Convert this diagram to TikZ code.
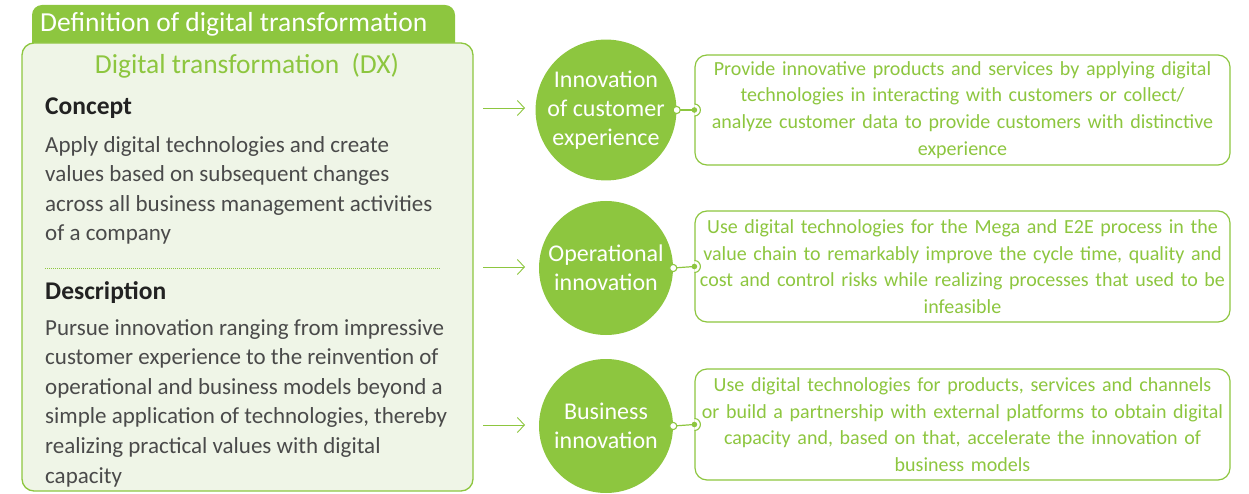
\documentclass[tikz,border=0pt]{standalone}
\usepackage{fontspec}
\setmainfont{Carlito}
\usetikzlibrary{arrows.meta,calc}
\definecolor{dxgreen}{HTML}{8DC63F}
\definecolor{dxlight}{HTML}{EFF5E7}
\definecolor{dxtext}{HTML}{4A4A4A}
\definecolor{dxhead}{HTML}{222222}
\begin{document}
\begin{tikzpicture}[x=1pt,y=-1pt,
  bodytext/.style={anchor=north west, align=left, inner sep=0pt, text=dxtext, font=\fontsize{23}{29.6}\selectfont},
  headtext/.style={anchor=west, inner sep=0pt, text=dxhead, font=\fontsize{25.5}{28}\selectfont\bfseries},
  bigcirc/.style={circle, fill=dxgreen, minimum size=134pt, inner sep=0pt, text=white, align=center, font=\fontsize{24}{29.3}\selectfont},
  descbox/.style={draw=dxgreen, line width=1.2pt, rounded corners=12pt, fill=white, minimum width=535pt, minimum height=111pt, text width=533pt, align=center, inner sep=0pt, text=dxgreen, font=\fontsize{20}{26.7}\selectfont},
  arr/.style={draw=dxgreen, line width=0.9pt, -{Straight Barb[length=7pt,width=15pt,line width=0.9pt]}},
  link/.style={draw=dxgreen, line width=1.2pt}
]
\useasboundingbox (0,0) rectangle (1249,494);
% tab
\fill[dxgreen, rounded corners=10pt] (32,70) -- (32,5) -- (455,5) -- (455,70) -- cycle;
\node[anchor=west, inner sep=0pt, text=white, font=\fontsize{27.5}{30}\selectfont] (tabtitle) at (40,24) {Definition of digital transformation};
% main box
\draw[dxgreen, line width=1.3pt, fill=dxlight, rounded corners=12pt] (22,43) rectangle (473,491);
\node[text=dxgreen, inner sep=0pt, font=\fontsize{27.5}{30}\selectfont] (dxtitle) at (247,66) {Digital transformation\hspace{0.45em}(DX)};
\node[headtext] (concept) at (45,108) {Concept};
\node[bodytext] (conceptbody) at (45,136) {Apply digital technologies and create\\values based on subsequent changes\\across all business management activities\\of a company};
\draw[dxgreen, line width=0.9pt, dash pattern=on 1pt off 1pt] (45,268) -- (440,268);
\node[headtext] (description) at (45,293) {Description};
\node[bodytext] (descbody) at (45,319) {Pursue innovation ranging from impressive\\customer experience to the reinvention of\\operational and business models beyond a\\simple application of technologies, thereby\\realizing practical values with digital\\capacity};
% arrows
\coordinate (a1s) at (483,108); \coordinate (a1e) at (525,108);
\coordinate (a2s) at (483,267); \coordinate (a2e) at (525,267);
\coordinate (a3s) at (483,425); \coordinate (a3e) at (525,425);
\draw[arr] (a1s) -- (a1e);
\draw[arr] (a2s) -- (a2e);
\draw[arr] (a3s) -- (a3e);
% circles
\node[bigcirc] (c1) at (606,110) {Innovation\\of customer\\experience};
\node[bigcirc] (c2) at (606,268) {Operational\\innovation};
\node[bigcirc] (c3) at (606,426) {Business\\innovation};
% boxes
\node[descbox, minimum height=110pt] (b1) at (962.5,110) {Provide innovative products and services by applying digital\\technologies in interacting with customers or collect/\\analyze customer data to provide customers with distinctive\\experience};
\node[descbox] (b2) at (962.5,266.5) {Use digital technologies for the Mega and E2E process in the\\value chain to remarkably improve the cycle time, quality and\\cost and control risks while realizing processes that used to be\\infeasible};
\node[descbox] (b3) at (962.5,424.5) {Use digital technologies for products, services and channels\\or build a partnership with external platforms to obtain digital\\capacity and, based on that, accelerate the innovation of\\business models};
% links
\foreach \c/\b in {c1/b1,c2/b2,c3/b3}{
  \draw[link] (\c.east) -- (\b.west);
  \fill[white] ([yshift=6pt]\b.west) arc[start angle=90, end angle=-90, radius=6pt] -- cycle;
  \draw[dxgreen, line width=1.1pt] ([yshift=6pt]\b.west) arc[start angle=90, end angle=-90, radius=6pt];
  \fill[dxgreen] (\b.west) circle (2.8pt);
  \draw[dxgreen, line width=1.1pt, fill=white] (\c.east) circle (3.6pt);
}
\end{tikzpicture}
\end{document}
